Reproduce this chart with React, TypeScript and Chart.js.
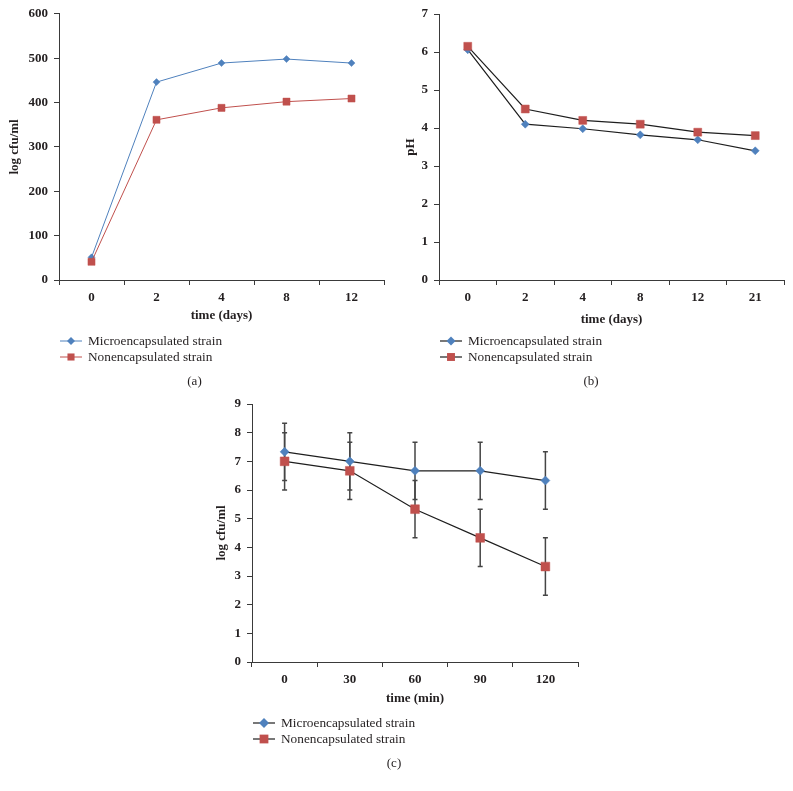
import React, { useEffect, useRef } from "react";
import { Chart, registerables } from "chart.js";

Chart.register(...registerables);

// ---------- data ----------
const growthDays = ["0", "2", "4", "8", "12"];
const growthMicro = [51, 446, 489, 498, 489];
const growthNon = [41, 361, 388, 402, 409];

const phDays = ["0", "2", "4", "8", "12", "21"];
const phMicro = [6.06, 4.1, 3.98, 3.82, 3.69, 3.4];
const phNon = [6.15, 4.5, 4.2, 4.1, 3.89, 3.8];

const acidMinutes = ["0", "30", "60", "90", "120"];
const acidMicro = [7.33, 7.0, 6.67, 6.67, 6.33];
const acidNon = [7.0, 6.67, 5.33, 4.33, 3.33];
const acidMicroErr = [1, 1, 1, 1, 1];
const acidNonErr = [1, 1, 1, 1, 1];

const legendLabels = ["Microencapsulated strain", "Nonencapsulated strain"];

// ---------- styles ----------
const BLUE = "#4f81bd";
const RED = "#c0504d";
const INK = "#231f20";
const AXIS = "#3a3a3a";
const SERIF = "'Liberation Serif', 'DejaVu Serif', serif";

type Series = {
  data: number[];
  color: string;
  lineColor: string;
  lineWidth: number;
  style: "rectRot" | "rect";
  radius: number;
  order: number;
};

type PanelSpec = {
  left: number;
  top: number;
  width: number;
  height: number;
  area: { left: number; right: number; top: number; bottom: number };
  labels: string[];
  series: Series[];
  yMax: number;
  yStep: number;
  yTitle: string;
  xTitle: string;
  xAxisH: number;
  caption: string;
  captionX: number;
  errors?: number[][];
};

function drawMarker(ctx: CanvasRenderingContext2D, style: string, x: number, y: number, r: number, color: string) {
  ctx.fillStyle = color;
  ctx.beginPath();
  if (style === "rect") {
    const s = Math.SQRT1_2 * r;
    ctx.rect(x - s, y - s, 2 * s, 2 * s);
  } else {
    ctx.moveTo(x - r, y);
    ctx.lineTo(x, y - r);
    ctx.lineTo(x + r, y);
    ctx.lineTo(x, y + r);
    ctx.closePath();
  }
  ctx.fill();
}

const legendPlugin = {
  id: "panelLegend",
  afterDraw(chart: any, _args: any, opts: any) {
    const { ctx, chartArea } = chart;
    const series: Series[] = opts.series;
    ctx.save();
    series.forEach((s, i) => {
      const y = chartArea.bottom + 61 + i * 16;
      const x0 = chartArea.left + 1;
      ctx.strokeStyle = s.lineColor;
      ctx.lineWidth = s.lineWidth;
      ctx.beginPath();
      ctx.moveTo(x0, y);
      ctx.lineTo(x0 + 22, y);
      ctx.stroke();
      drawMarker(ctx, s.style, x0 + 11, y, s.style === "rect" ? s.radius : s.radius + 0.5, s.color);
      ctx.fillStyle = INK;
      ctx.font = `13.3px ${SERIF}`;
      ctx.textAlign = "left";
      ctx.textBaseline = "middle";
      ctx.fillText(opts.labels[i], x0 + 28, y + 0.5);
    });
    ctx.font = `13px ${SERIF}`;
    ctx.textAlign = "center";
    ctx.textBaseline = "middle";
    ctx.fillStyle = INK;
    ctx.fillText(opts.caption, opts.captionX, chartArea.bottom + 102);
    ctx.restore();
  },
};

const errorBarPlugin = {
  id: "errorBars",
  beforeDatasetsDraw(chart: any, _args: any, opts: any) {
    const errors: number[][] | undefined = opts.errors;
    if (!errors) return;
    const { ctx, scales } = chart;
    const xs = scales.x;
    const ys = scales.y;
    ctx.save();
    ctx.strokeStyle = "#454545";
    ctx.lineWidth = 1.5;
    chart.data.datasets.forEach((ds: any, di: number) => {
      const err = errors[di];
      if (!err) return;
      ds.data.forEach((v: number, i: number) => {
        const x = xs.getPixelForValue(i);
        const yTop = ys.getPixelForValue(v + err[i]);
        const yBot = ys.getPixelForValue(v - err[i]);
        ctx.beginPath();
        ctx.moveTo(x, yTop);
        ctx.lineTo(x, yBot);
        ctx.moveTo(x - 2.5, yTop);
        ctx.lineTo(x + 2.5, yTop);
        ctx.moveTo(x - 2.5, yBot);
        ctx.lineTo(x + 2.5, yBot);
        ctx.stroke();
      });
    });
    ctx.restore();
  },
};

function Panel({ spec }: { spec: PanelSpec }) {
  const ref = useRef<HTMLCanvasElement | null>(null);
  useEffect(() => {
    if (!ref.current) return;
    const a = spec.area;
    const tickFont = { family: SERIF, size: 13, weight: "bold" as const };
    const titleFont = { family: SERIF, size: 13, weight: "bold" as const };
    const chart = new Chart(ref.current, {
      type: "line",
      data: {
        labels: spec.labels,
        datasets: spec.series.map((s, i) => ({
          label: legendLabels[i],
          data: s.data,
          borderColor: s.lineColor,
          borderWidth: s.lineWidth,
          backgroundColor: s.color,
          pointStyle: s.style,
          pointRadius: s.radius,
          pointBackgroundColor: s.color,
          pointBorderColor: s.color,
          pointBorderWidth: 0.5,
          tension: 0,
          fill: false,
          order: s.order,
        })),
      },
      options: {
        responsive: false,
        animation: false,
        devicePixelRatio: 1,
        layout: {
          padding: {
            left: 0,
            top: a.top,
            right: spec.width - a.right,
            bottom: spec.height - a.bottom - spec.xAxisH,
          },
        },
        plugins: {
          legend: { display: false },
          tooltip: { enabled: false },
          panelLegend: {
            series: spec.series,
            labels: legendLabels,
            caption: spec.caption,
            captionX: spec.captionX,
          },
          errorBars: { errors: spec.errors },
        } as any,
        scales: {
          x: {
            type: "category",
            offset: true,
            grid: {
              display: true,
              offset: true,
              drawOnChartArea: false,
              drawTicks: true,
              tickLength: 5,
              color: AXIS,
            },
            border: { display: true, color: AXIS, width: 1 },
            ticks: { font: tickFont, color: INK, padding: 5, maxRotation: 0 },
            title: {
              display: true,
              text: spec.xTitle,
              font: titleFont,
              color: INK,
              padding: { top: 0, bottom: 0 },
            },
            afterFit: (scale: any) => {
              scale.height = spec.xAxisH;
            },
          },
          y: {
            type: "linear",
            min: 0,
            max: spec.yMax,
            grid: {
              display: true,
              drawOnChartArea: false,
              drawTicks: true,
              tickLength: 5,
              color: AXIS,
            },
            border: { display: true, color: AXIS, width: 1 },
            ticks: { stepSize: spec.yStep, font: tickFont, color: INK, padding: 6 },
            title: {
              display: true,
              text: spec.yTitle,
              font: titleFont,
              color: INK,
              padding: { top: 7, bottom: 0 },
            },
            afterFit: (scale: any) => {
              scale.width = a.left;
            },
          },
        },
      },
      plugins: [legendPlugin, errorBarPlugin],
    });
    return () => chart.destroy();
  }, [spec]);
  return (
    <div style={{ position: "absolute", left: spec.left, top: spec.top, width: spec.width, height: spec.height }}>
      <canvas ref={ref} width={spec.width} height={spec.height} style={{ display: "block" }} />
    </div>
  );
}

const panelA: PanelSpec = {
  left: 0,
  top: 0,
  width: 396,
  height: 395,
  area: { left: 59, right: 384, top: 13, bottom: 280 },
  labels: growthDays,
  series: [
    { data: growthMicro, color: BLUE, lineColor: BLUE, lineWidth: 1, style: "rectRot", radius: 3.5, order: 1 },
    { data: growthNon, color: RED, lineColor: RED, lineWidth: 1, style: "rect", radius: 5, order: 0 },
  ],
  yMax: 600,
  yStep: 100,
  yTitle: "log cfu/ml",
  xTitle: "time (days)",
  xAxisH: 43,
  caption: "(a)",
  captionX: 194.5,
};

const panelB: PanelSpec = {
  left: 396,
  top: 0,
  width: 397,
  height: 395,
  area: { left: 43, right: 388, top: 14, bottom: 280 },
  labels: phDays,
  series: [
    { data: phMicro, color: BLUE, lineColor: "#1e1e1e", lineWidth: 1.2, style: "rectRot", radius: 4, order: 1 },
    { data: phNon, color: RED, lineColor: "#1e1e1e", lineWidth: 1.2, style: "rect", radius: 5.6, order: 0 },
  ],
  yMax: 7,
  yStep: 1,
  yTitle: "pH",
  xTitle: "time (days)",
  xAxisH: 47,
  caption: "(b)",
  captionX: 195,
};

const panelC: PanelSpec = {
  left: 207,
  top: 390,
  width: 400,
  height: 401,
  area: { left: 45, right: 371, top: 14, bottom: 272 },
  labels: acidMinutes,
  series: [
    { data: acidMicro, color: BLUE, lineColor: "#1e1e1e", lineWidth: 1.2, style: "rectRot", radius: 4.5, order: 1 },
    { data: acidNon, color: RED, lineColor: "#1e1e1e", lineWidth: 1.2, style: "rect", radius: 6.2, order: 0 },
  ],
  yMax: 9,
  yStep: 1,
  yTitle: "log cfu/ml",
  xTitle: "time (min)",
  xAxisH: 44,
  caption: "(c)",
  captionX: 187,
  errors: [acidMicroErr, acidNonErr],
};

export default function App() {
  return (
    <div style={{ position: "absolute", left: 0, top: 0, width: 793, height: 791, background: "#ffffff", overflow: "hidden" }}>
      <Panel spec={panelA} />
      <Panel spec={panelB} />
      <Panel spec={panelC} />
    </div>
  );
}
